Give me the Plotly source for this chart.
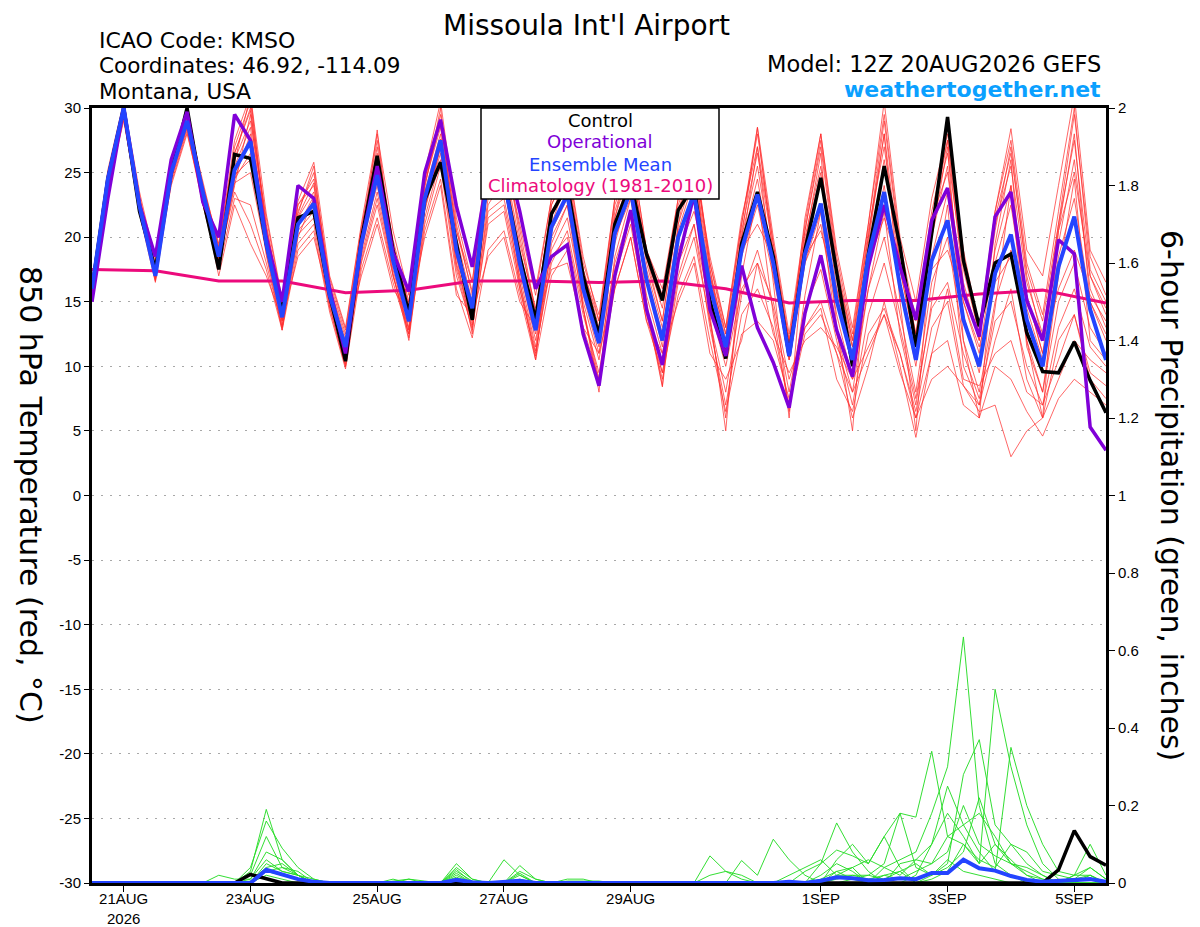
import plotly.graph_objects as go
import pandas as pd

# ---------------- time axis ----------------
times = pd.date_range("2026-08-20 12:00", periods=65, freq="6h")
clim_times = pd.date_range("2026-08-20 12:00", periods=17, freq="24h")

tick_dates = ["2026-08-21", "2026-08-23", "2026-08-25", "2026-08-27",
              "2026-08-29", "2026-09-01", "2026-09-03", "2026-09-05"]
tick_labels = ["21AUG<br>2026", "23AUG", "25AUG", "27AUG",
               "29AUG", "1SEP", "3SEP", "5SEP"]

temp_ticks = [-30, -25, -20, -15, -10, -5, 0, 5, 10, 15, 20, 25, 30]
temp_tick_labels = ["-30", "-25", "-20", "-15", "-10", "-5", "0", "5", "10", "15", "20", "25", "30"]
precip_ticks = [0, 0.2, 0.4, 0.6, 0.8, 1.0, 1.2, 1.4, 1.6, 1.8, 2.0]
precip_tick_labels = ["0", "0.2", "0.4", "0.6", "0.8", "1", "1.2", "1.4", "1.6", "1.8", "2"]

# ---------------- 850 hPa temperature (deg C) ----------------
control_t = [16, 24.5, 30, 22, 17.5, 25, 30, 23,
             17.5, 26.4, 26.1, 19.5, 14.2, 21.5, 22, 15.5,
             10.4, 19.8, 26.3, 19, 14.1, 22.9, 25.8, 19.5,
             13.6, 25.5, 24.5, 18.5, 13.6, 21.8, 24, 17,
             12.4, 21, 24.2, 18.7, 15.1, 22.1, 24, 15.1,
             10.6, 19.5, 23.5, 18.5, 10.8, 19, 24.6, 17.2,
             10, 18.7, 25.5, 19.3, 11.5, 20.3, 29.3, 18.2,
             13.1, 18, 18.7, 12.6, 9.6, 9.5, 11.9, 8.9,
             6.4]

operational_t = [15, 23, 30, 22.5, 18.5, 26, 29.7, 22.7,
                 20, 29.5, 27.5, 20, 15, 24, 23, 16,
                 11, 19.5, 25.5, 18.8, 15.8, 25, 29.1, 22.4,
                 17.7, 25, 27, 22, 16, 18.5, 19.4, 12.5,
                 8.5, 17, 22.1, 14.4, 10.1, 18.2, 23.3, 14.4,
                 10.8, 17.8, 13, 10.3, 6.8, 14.1, 18.6, 12.8,
                 9.2, 17.7, 22.5, 17.7, 13.6, 21.3, 23.8, 15.7,
                 12.3, 21.6, 23.5, 15.1, 12, 19.8, 18.7, 5.3,
                 3.5]

mean_t = [16, 24.5, 30, 22.4, 17, 25, 29, 23.5,
          18.5, 25.2, 27.4, 19.5, 13.8, 21, 22.6, 15.5,
          11.5, 19.5, 24.8, 18.2, 13.5, 23, 27.5, 19,
          14.5, 25, 24.5, 18, 12.8, 20.8, 23.3, 16,
          11.8, 20.3, 23.6, 16.7, 12, 20, 23.4, 16.2,
          11.5, 19, 23.3, 18, 10.8, 18.7, 22.6, 15.1,
          10.5, 18.5, 23.5, 16.2, 10.5, 18.2, 21.3, 13.6,
          10, 17.2, 20.2, 13.6, 10, 17.7, 21.6, 14.4,
          10.5]

climatology_t = [17.5, 17.4, 16.6, 16.6, 15.7, 15.9, 16.6, 16.6, 16.5,
                 16.6, 16.0, 14.9, 15.1, 15.1, 15.6, 15.9, 14.9]

member_01 = [15.8, 24.8, 30.4, 23.0, 17.6, 25.5, 29.3, 23.8,
             19.0, 27.0, 30.5, 21.0, 14.5, 22.0, 25.0, 16.5,
             12.5, 20.5, 27.5, 19.5, 14.5, 24.5, 29.5, 21.0,
             15.5, 26.5, 27.5, 20.0, 14.0, 22.5, 25.5, 17.5,
             13.0, 22.0, 26.0, 18.5, 13.5, 22.0, 26.5, 18.0,
             12.5, 21.0, 28.0, 19.5, 12.0, 20.5, 27.5, 18.0,
             12.0, 20.0, 29.0, 19.0, 12.5, 21.0, 27.5, 16.5,
             12.0, 20.5, 27.0, 17.0, 12.0, 21.0, 29.5, 18.5,
             15.5]
member_02 = [15.2, 23.6, 29.2, 21.8, 16.5, 24.2, 28.2, 22.5,
             17.5, 23.0, 22.5, 18.0, 13.0, 19.5, 21.0, 14.5,
             10.0, 18.0, 22.5, 17.0, 12.5, 21.0, 25.5, 17.0,
             13.0, 21.0, 22.0, 16.0, 11.0, 18.5, 20.0, 14.0,
             9.5, 17.0, 21.0, 14.0, 9.0, 16.5, 20.0, 13.5,
             8.0, 15.5, 19.0, 14.5, 8.0, 14.5, 17.5, 12.0,
             7.0, 14.0, 18.0, 13.0, 7.5, 14.5, 16.5, 11.0,
             7.5, 13.5, 15.0, 10.0, 7.0, 13.0, 16.0, 11.5,
             10.0]
member_03 = [16.3, 24.2, 29.8, 22.8, 17.2, 25.2, 28.8, 23.2,
             18.2, 25.5, 28.5, 20.0, 14.0, 21.5, 23.5, 15.8,
             11.2, 19.0, 25.5, 18.5, 13.8, 23.5, 28.0, 19.5,
             14.8, 24.0, 25.5, 19.0, 13.5, 21.0, 24.5, 16.5,
             12.0, 21.0, 25.0, 17.0, 12.5, 21.0, 25.0, 17.0,
             11.5, 20.0, 25.5, 18.0, 11.0, 19.5, 25.0, 16.0,
             10.5, 19.0, 26.0, 17.5, 11.5, 20.0, 25.5, 15.0,
             11.0, 19.0, 24.0, 15.5, 11.0, 19.5, 26.0, 16.0,
             13.0]
member_04 = [16.0, 24.4, 29.9, 22.2, 16.8, 24.8, 29.0, 23.0,
             18.8, 24.5, 26.5, 19.0, 13.5, 20.5, 22.0, 15.0,
             11.0, 19.5, 24.0, 18.0, 13.0, 22.0, 27.0, 18.5,
             14.0, 23.0, 24.0, 17.5, 12.0, 19.0, 21.5, 15.0,
             10.5, 18.0, 22.0, 15.5, 11.0, 18.0, 21.0, 14.5,
             10.0, 16.0, 18.0, 15.0, 9.0, 13.0, 15.0, 11.0,
             8.0, 11.0, 14.0, 9.5, 6.0, 9.0, 10.0, 8.5,
             6.5, 7.0, 3.0, 5.0, 6.0, 9.0, 12.0, 10.5,
             9.5]
member_05 = [15.6, 24.0, 29.6, 22.0, 17.0, 24.6, 28.6, 22.8,
             18.0, 24.0, 29.5, 19.5, 13.2, 20.0, 23.0, 15.2,
             10.8, 18.5, 23.5, 17.5, 12.8, 22.5, 26.5, 18.0,
             13.5, 22.0, 23.0, 17.0, 11.5, 20.0, 22.5, 15.5,
             11.0, 19.5, 24.0, 16.5, 11.5, 20.5, 24.5, 16.5,
             11.0, 19.5, 24.5, 17.5, 10.5, 18.0, 22.0, 15.0,
             10.0, 18.0, 24.0, 16.0, 10.0, 18.5, 23.5, 14.0,
             9.5, 18.0, 22.5, 14.5, 10.5, 18.5, 23.0, 15.0,
             12.0]
member_06 = [16.4, 25.0, 30.2, 23.2, 17.8, 25.8, 29.5, 24.0,
             19.5, 26.5, 30.0, 20.5, 14.8, 22.5, 24.5, 16.8,
             12.8, 20.8, 26.5, 19.8, 15.0, 24.0, 29.0, 20.5,
             16.5, 25.5, 26.5, 21.0, 15.5, 23.0, 26.0, 18.0,
             14.0, 23.0, 27.0, 19.0, 15.5, 23.0, 27.0, 18.0,
             13.0, 21.0, 28.5, 20.0, 12.5, 21.0, 28.0, 19.0,
             13.0, 21.0, 30.5, 20.0, 15.0, 23.0, 28.0, 19.0,
             13.0, 22.0, 28.4, 19.0, 17.0, 24.0, 31.0, 19.0,
             16.5]
member_07 = [15.9, 24.6, 30.0, 22.5, 17.3, 25.0, 29.2, 23.5,
             18.4, 25.0, 27.5, 19.2, 13.8, 21.2, 22.8, 15.6,
             11.4, 19.6, 25.0, 18.2, 13.4, 23.2, 27.6, 18.8,
             14.2, 24.5, 24.0, 17.5, 12.5, 20.5, 23.0, 16.0,
             11.5, 20.0, 23.5, 16.5, 12.0, 20.0, 23.0, 16.0,
             11.5, 18.5, 22.5, 17.0, 10.5, 18.0, 21.0, 14.0,
             9.0, 16.0, 20.0, 14.0, 8.0, 16.5, 20.0, 12.0,
             8.0, 15.0, 19.0, 12.0, 8.0, 15.0, 18.0, 13.0,
             11.0]
member_08 = [15.4, 24.3, 29.5, 22.3, 16.6, 24.5, 28.9, 23.3,
             17.8, 25.8, 31.0, 20.2, 13.5, 21.8, 25.5, 15.5,
             10.2, 19.2, 28.3, 18.0, 12.2, 23.8, 30.0, 18.5,
             12.5, 26.0, 27.0, 16.5, 10.5, 21.5, 25.5, 14.5,
             8.0, 21.5, 26.5, 15.0, 8.5, 21.0, 27.0, 14.0,
             5.0, 19.0, 27.0, 16.5, 6.0, 19.5, 26.5, 13.0,
             5.0, 19.5, 28.0, 15.0, 5.0, 20.0, 27.0, 12.0,
             6.0, 19.5, 26.0, 12.0, 6.0, 20.5, 28.0, 15.0,
             12.5]
member_09 = [16.1, 24.7, 30.1, 22.6, 17.4, 25.3, 29.0, 23.6,
             18.6, 24.8, 26.0, 19.8, 14.2, 21.0, 22.2, 15.3,
             11.8, 19.8, 24.5, 18.4, 13.6, 22.8, 27.0, 19.2,
             14.5, 25.0, 25.0, 18.5, 13.0, 21.0, 23.0, 16.5,
             12.5, 20.0, 23.0, 17.5, 13.0, 19.0, 22.0, 17.0,
             12.5, 19.0, 21.0, 18.5, 12.0, 18.5, 20.5, 16.0,
             11.5, 18.0, 21.5, 17.5, 11.5, 17.5, 19.0, 15.0,
             11.5, 16.5, 18.5, 15.5, 11.0, 16.0, 19.0, 15.5,
             13.5]
member_10 = [15.7, 24.1, 29.7, 22.1, 16.9, 24.7, 28.7, 23.0,
             18.1, 24.2, 25.0, 18.8, 13.0, 20.2, 21.5, 14.8,
             10.5, 18.2, 23.0, 17.2, 12.0, 21.5, 26.0, 17.5,
             12.8, 21.5, 22.5, 16.5, 11.2, 18.0, 20.5, 14.5,
             9.0, 17.5, 21.5, 14.5, 9.5, 17.0, 21.0, 13.0,
             7.0, 14.0, 16.0, 13.0, 7.0, 12.5, 14.0, 11.0,
             6.0, 10.0, 15.0, 10.0, 4.5, 11.0, 12.0, 7.0,
             6.0, 10.0, 9.0, 6.5, 4.6, 7.5, 9.0, 8.0,
             7.0]
member_11 = [16.2, 24.5, 29.9, 22.9, 17.5, 25.6, 29.4, 24.2,
             19.2, 26.0, 29.0, 21.5, 15.0, 22.5, 24.0, 16.2,
             12.2, 20.2, 26.0, 19.0, 14.2, 24.2, 28.5, 20.0,
             15.0, 24.0, 26.0, 19.5, 14.5, 22.0, 24.0, 17.0,
             12.5, 21.5, 25.5, 18.0, 13.5, 22.0, 25.5, 17.5,
             12.0, 20.5, 26.5, 19.0, 11.5, 20.0, 25.5, 17.5,
             12.0, 20.5, 27.0, 18.0, 12.5, 21.5, 25.0, 16.0,
             12.0, 21.0, 25.5, 16.5, 12.5, 20.5, 25.0, 17.0,
             14.5]
member_12 = [15.9, 24.2, 29.4, 22.4, 17.1, 24.9, 28.5, 22.9,
             18.3, 23.5, 21.0, 17.5, 12.8, 19.0, 20.5, 14.2,
             9.8, 17.5, 21.5, 16.5, 12.5, 20.5, 24.5, 16.0,
             12.2, 19.0, 20.5, 15.5, 10.5, 17.0, 19.0, 13.0,
             9.0, 16.0, 20.0, 13.5, 9.5, 15.5, 18.5, 12.0,
             6.5, 12.5, 13.5, 12.0, 7.5, 13.0, 14.5, 9.0,
             6.5, 12.5, 14.5, 11.0, 6.5, 13.0, 15.0, 8.5,
             7.0, 12.0, 16.0, 9.0, 6.0, 12.0, 14.0, 9.5,
             8.5]
member_13 = [16.0, 24.9, 30.3, 23.1, 17.7, 25.4, 29.6, 23.9,
             19.3, 27.5, 31.0, 21.8, 15.2, 22.8, 25.8, 17.0,
             13.0, 21.0, 28.0, 20.5, 15.5, 25.0, 30.5, 21.5,
             16.5, 27.0, 28.0, 22.0, 16.0, 23.0, 26.0, 18.5,
             13.5, 23.0, 27.0, 19.0, 16.0, 23.0, 26.5, 17.5,
             11.0, 20.0, 28.5, 18.5, 11.0, 21.5, 28.0, 18.5,
             12.5, 21.0, 29.5, 19.5, 13.5, 22.0, 27.5, 18.0,
             12.5, 22.0, 27.5, 18.0, 14.0, 22.0, 30.0, 17.5,
             15.0]
member_14 = [15.5, 24.1, 29.5, 22.0, 16.7, 24.4, 28.4, 22.6,
             17.6, 24.5, 28.0, 18.6, 12.8, 20.8, 23.2, 14.6,
             10.0, 18.8, 24.5, 17.0, 12.8, 22.2, 27.0, 17.8,
             13.2, 22.5, 24.5, 16.0, 10.8, 19.5, 22.5, 14.5,
             8.5, 18.5, 23.0, 14.5, 8.4, 18.5, 23.0, 13.5,
             6.0, 17.0, 23.5, 14.0, 6.5, 15.5, 22.0, 12.5,
             8.0, 16.0, 22.0, 12.5, 7.0, 15.0, 22.5, 10.0,
             7.0, 14.5, 24.0, 11.5, 8.0, 17.0, 24.5, 12.0,
             10.5]
member_15 = [16.1, 23.8, 29.0, 22.2, 17.2, 24.0, 28.0, 23.0,
             17.0, 22.5, 19.5, 17.0, 13.6, 18.5, 20.0, 15.0,
             12.0, 17.0, 21.0, 16.0, 14.0, 20.0, 24.0, 15.5,
             14.0, 18.5, 20.0, 15.0, 13.0, 17.5, 18.0, 13.0,
             11.0, 16.0, 20.0, 13.5, 11.0, 15.0, 18.0, 11.0,
             9.0, 12.0, 18.0, 12.5, 9.5, 12.0, 13.0, 11.5,
             9.0, 11.5, 14.0, 11.0, 6.0, 11.0, 16.0, 9.0,
             8.5, 11.0, 12.0, 8.0, 7.0, 10.5, 14.0, 9.0,
             7.5]
member_16 = [16.6, 25.2, 30.5, 23.5, 18.2, 26.0, 29.6, 24.0,
             19.0, 26.5, 29.8, 20.8, 14.6, 21.6, 24.2, 16.2,
             11.8, 20.0, 27.0, 19.2, 14.8, 24.5, 28.8, 20.5,
             15.8, 25.5, 27.0, 20.5, 14.2, 22.5, 25.0, 17.5,
             13.5, 22.5, 26.0, 18.5, 14.5, 22.5, 26.0, 18.5,
             13.0, 21.5, 27.0, 19.5, 11.8, 20.5, 27.0, 17.5,
             11.5, 20.0, 28.0, 18.0, 14.0, 21.5, 26.5, 17.5,
             12.5, 21.5, 26.5, 17.5, 13.5, 21.0, 27.5, 17.0,
             14.0]

members_t = [member_01, member_02, member_03, member_04, member_05, member_06,
             member_07, member_08, member_09, member_10, member_11, member_12,
             member_13, member_14, member_15, member_16]

# ---------------- 6-hour precipitation (inches) ----------------
precip_01 = [0, 0, 0, 0, 0, 0, 0, 0,
             0, 0, 0.03, 0.19, 0.06, 0.02, 0, 0,
             0, 0, 0, 0, 0, 0, 0, 0.05,
             0.01, 0, 0, 0, 0, 0, 0, 0,
             0, 0, 0, 0, 0, 0, 0, 0,
             0, 0, 0, 0, 0, 0, 0.02, 0.05,
             0.03, 0, 0.04, 0.06, 0.08, 0.18, 0.3, 0.635,
             0.2, 0.05, 0.02, 0, 0, 0, 0, 0.02,
             0]
precip_02 = [0, 0, 0, 0, 0, 0, 0, 0,
             0, 0, 0.04, 0.16, 0.09, 0.04, 0.01, 0,
             0, 0, 0, 0.01, 0, 0, 0, 0.04,
             0.01, 0, 0.06, 0.02, 0, 0, 0, 0,
             0, 0, 0, 0, 0, 0, 0, 0.07,
             0.03, 0.01, 0, 0, 0, 0, 0.05, 0.155,
             0.08, 0.03, 0, 0, 0.02, 0.1, 0.18, 0.12,
             0.05, 0.5, 0.3, 0.15, 0.05, 0.01, 0, 0,
             0]
precip_03 = [0, 0, 0, 0, 0, 0, 0, 0,
             0, 0, 0.02, 0.12, 0.04, 0.03, 0, 0,
             0, 0, 0, 0, 0.01, 0, 0, 0.035,
             0, 0, 0, 0.045, 0.01, 0, 0, 0,
             0, 0, 0, 0, 0, 0, 0, 0,
             0, 0.058, 0.02, 0.113, 0.06, 0.02, 0, 0.06,
             0.1, 0.05, 0.12, 0.04, 0, 0.02, 0.05, 0.28,
             0.37, 0.15, 0.1, 0.05, 0.02, 0, 0.02, 0.1,
             0.02]
precip_04 = [0, 0, 0, 0, 0, 0, 0, 0,
             0.02, 0.01, 0.01, 0.08, 0.06, 0.02, 0, 0,
             0, 0, 0, 0, 0, 0, 0, 0.03,
             0.005, 0, 0, 0.03, 0.01, 0, 0, 0,
             0, 0, 0, 0, 0, 0, 0, 0,
             0, 0, 0, 0, 0, 0.03, 0.05, 0.085,
             0.07, 0.05, 0.12, 0.18, 0.17, 0.34, 0.12, 0.15,
             0.08, 0.03, 0.35, 0.2, 0.1, 0.03, 0.02, 0.04,
             0.01]
precip_05 = [0, 0, 0, 0, 0, 0, 0, 0,
             0, 0, 0.01, 0.06, 0.03, 0.02, 0, 0,
             0, 0, 0, 0, 0, 0, 0, 0.025,
             0, 0, 0, 0.025, 0, 0, 0.005, 0.005,
             0.005, 0, 0, 0, 0, 0, 0, 0,
             0, 0, 0, 0, 0, 0, 0, 0.03,
             0.04, 0, 0, 0.05, 0.06, 0.1, 0.25, 0.15,
             0.18, 0.12, 0.05, 0.02, 0, 0, 0.01, 0.04,
             0.01]
precip_06 = [0, 0, 0, 0, 0, 0, 0, 0,
             0, 0, 0.005, 0.04, 0.05, 0.02, 0, 0,
             0, 0, 0, 0, 0, 0, 0, 0.02,
             0, 0, 0, 0.01, 0, 0, 0, 0,
             0, 0, 0, 0, 0, 0, 0, 0,
             0, 0, 0, 0, 0, 0, 0, 0.02,
             0.02, 0.01, 0.02, 0.01, 0.03, 0.05, 0.08, 0.2,
             0.1, 0.07, 0.05, 0.04, 0.02, 0, 0, 0,
             0]
precip_07 = [0, 0, 0, 0, 0, 0, 0, 0,
             0, 0, 0, 0.05, 0.03, 0.02, 0, 0,
             0, 0, 0, 0, 0, 0, 0, 0.015,
             0, 0, 0, 0, 0, 0, 0, 0,
             0, 0, 0, 0, 0, 0, 0, 0,
             0, 0, 0, 0, 0, 0, 0, 0,
             0.01, 0.02, 0.01, 0.03, 0, 0.01, 0.03, 0.1,
             0.05, 0.1, 0.05, 0.03, 0.01, 0, 0, 0,
             0]
precip_08 = [0, 0, 0, 0, 0, 0, 0, 0,
             0, 0, 0, 0.03, 0.02, 0.01, 0, 0,
             0, 0, 0, 0.005, 0.01, 0.005, 0, 0,
             0, 0, 0, 0, 0, 0, 0.01, 0.01,
             0, 0, 0, 0, 0, 0, 0, 0.02,
             0.03, 0.02, 0, 0, 0.02, 0.04, 0.06, 0.02,
             0.04, 0.06, 0.04, 0.02, 0.06, 0.05, 0.12, 0.1,
             0.06, 0.04, 0.1, 0.08, 0.03, 0.02, 0.01, 0.02,
             0]
precip_09 = [0, 0, 0, 0, 0, 0, 0, 0,
             0, 0, 0, 0.02, 0.01, 0, 0, 0,
             0, 0, 0, 0, 0, 0, 0, 0,
             0, 0, 0, 0, 0, 0, 0, 0,
             0, 0, 0, 0, 0, 0, 0, 0,
             0, 0, 0, 0, 0, 0, 0, 0.01,
             0.02, 0.02, 0.05, 0.18, 0.04, 0.02, 0.06, 0.03,
             0.02, 0.01, 0, 0, 0, 0, 0, 0,
             0]
precip_10 = [0, 0, 0, 0, 0, 0, 0, 0,
             0, 0, 0, 0.03, 0.04, 0.02, 0.01, 0,
             0, 0, 0, 0, 0, 0, 0, 0,
             0, 0, 0, 0.02, 0, 0, 0, 0,
             0, 0, 0, 0, 0, 0, 0, 0,
             0, 0, 0, 0, 0, 0, 0.01, 0.03,
             0.01, 0, 0.02, 0.03, 0.05, 0.02, 0.04, 0.08,
             0.22, 0.1, 0.06, 0.02, 0.01, 0, 0.02, 0.02,
             0]

members_p = [precip_01, precip_02, precip_03, precip_04, precip_05,
             precip_06, precip_07, precip_08, precip_09, precip_10]

control_p = [0, 0, 0, 0, 0, 0, 0, 0,
             0, 0, 0.022, 0.01, 0, 0, 0, 0,
             0, 0, 0, 0, 0, 0, 0, 0,
             0, 0, 0, 0, 0, 0, 0, 0,
             0, 0, 0, 0, 0, 0, 0, 0,
             0, 0, 0, 0, 0, 0, 0, 0,
             0, 0, 0, 0, 0, 0, 0, 0,
             0, 0, 0, 0, 0, 0.034, 0.135, 0.068,
             0.046]
mean_p = [0, 0, 0, 0, 0, 0, 0, 0,
          0, 0, 0, 0.034, 0.022, 0.01, 0.003, 0,
          0, 0, 0, 0, 0, 0, 0, 0.008,
          0.002, 0, 0.003, 0.006, 0, 0, 0, 0,
          0, 0, 0, 0, 0, 0, 0, 0,
          0, 0, 0, 0, 0.003, 0, 0.006, 0.015,
          0.012, 0.007, 0.008, 0.012, 0.01, 0.026, 0.026, 0.06,
          0.038, 0.032, 0.018, 0.008, 0.003, 0.006, 0.008, 0.01,
          0.003]

# ---------------- styling ----------------
RED = "rgba(255,45,45,0.72)"
GREEN = "rgba(40,220,40,0.95)"
BLACK = "#000000"
PURPLE = "#8000d8"
BLUE = "#2444ff"
PINK = "#ec0a7c"
SKY = "#0aa0ff"
HEAD_FONT = "DejaVu Sans"
TICK_FONT = "Liberation Sans"

# the page body adds an 8px offset, so the figure is drawn 8px smaller
OFF = 8
FIG_W, FIG_H = 1200 - OFF, 927 - OFF
# plot-area edges in reference (window) pixels
L, R, T, B = 92, 1106, 108, 883


def px_x(x):
    return (x - L) / (R - L)


def px_y(y):
    return (B - y) / (B - T)


fig = go.Figure()

for m in members_t:
    fig.add_trace(go.Scatter(x=times, y=m, mode="lines",
                             line=dict(color=RED, width=1),
                             hoverinfo="skip", showlegend=False))

fig.add_trace(go.Scatter(x=clim_times, y=climatology_t, mode="lines",
                         line=dict(color=PINK, width=3), showlegend=False))
fig.add_trace(go.Scatter(x=times, y=control_t, mode="lines",
                         line=dict(color=BLACK, width=3.5), showlegend=False))
fig.add_trace(go.Scatter(x=times, y=operational_t, mode="lines",
                         line=dict(color=PURPLE, width=3.5), showlegend=False))
fig.add_trace(go.Scatter(x=times, y=mean_t, mode="lines",
                         line=dict(color=BLUE, width=4), showlegend=False))

for p in members_p:
    fig.add_trace(go.Scatter(x=times, y=p, mode="lines", yaxis="y2",
                             line=dict(color=GREEN, width=1),
                             hoverinfo="skip", showlegend=False))
fig.add_trace(go.Scatter(x=times, y=control_p, mode="lines", yaxis="y2",
                         line=dict(color=BLACK, width=3.5), showlegend=False))
fig.add_trace(go.Scatter(x=times, y=mean_p, mode="lines", yaxis="y2",
                         line=dict(color=BLUE, width=4), showlegend=False))

annotations = [
    dict(text="Missoula Int'l Airport", x=px_x(586), y=px_y(OFF), xanchor="center", yanchor="top",
         borderpad=0, font=dict(family=HEAD_FONT, size=28, color="black")),
    dict(text="ICAO Code: KMSO", x=px_x(97), y=px_y(40), xanchor="left", yanchor="middle",
         font=dict(family=HEAD_FONT, size=22, color="black")),
    dict(text="Coordinates: 46.92, -114.09", x=px_x(97), y=px_y(66), xanchor="left", yanchor="middle",
         font=dict(family=HEAD_FONT, size=21.5, color="black")),
    dict(text="Montana, USA", x=px_x(97), y=px_y(92), xanchor="left", yanchor="middle",
         font=dict(family=HEAD_FONT, size=21.5, color="black")),
    dict(text="Model: 12Z 20AUG2026 GEFS", x=px_x(1103), y=px_y(64), xanchor="right", yanchor="middle",
         font=dict(family=HEAD_FONT, size=22.5, color="black")),
    dict(text="<b>weathertogether.net</b>", x=px_x(1103), y=px_y(89), xanchor="right", yanchor="middle",
         font=dict(family=HEAD_FONT, size=22, color=SKY)),
    dict(text="Control", x=px_x(600), y=px_y(121), xanchor="center", yanchor="middle",
         font=dict(family=HEAD_FONT, size=18, color=BLACK)),
    dict(text="Operational", x=px_x(600), y=px_y(142), xanchor="center", yanchor="middle",
         font=dict(family=HEAD_FONT, size=18, color=PURPLE)),
    dict(text="Ensemble Mean", x=px_x(600), y=px_y(164), xanchor="center", yanchor="middle",
         font=dict(family=HEAD_FONT, size=18, color=BLUE)),
    dict(text="Climatology (1981-2010)", x=px_x(600), y=px_y(186), xanchor="center", yanchor="middle",
         font=dict(family=HEAD_FONT, size=18, color=PINK)),
    dict(text="850 hPa Temperature (red, °C)", x=px_x(31), y=px_y(495), xanchor="center", yanchor="middle",
         textangle=90, font=dict(family=HEAD_FONT, size=30, color="black")),
    dict(text="6-hour Precipitation (green, inches)", x=px_x(1172), y=px_y(495), xanchor="center",
         yanchor="middle", textangle=90, font=dict(family=HEAD_FONT, size=30, color="black")),
]
for a in annotations:
    a.update(xref="paper", yref="paper", showarrow=False)

fig.update_layout(
    width=FIG_W, height=FIG_H,
    margin=dict(l=L - OFF, r=FIG_W - (R - OFF), t=T - OFF, b=FIG_H - (B - OFF), autoexpand=False),
    paper_bgcolor="white", plot_bgcolor="white",
    showlegend=False,
    xaxis=dict(type="date", range=[times[0], times[-1]],
               tickvals=tick_dates, ticktext=tick_labels,
               ticks="outside", ticklen=6, tickwidth=1, tickcolor="black",
               ticklabelstandoff=-6,
               showline=True, linecolor="black", linewidth=3, mirror=True,
               showgrid=False, zeroline=False, automargin=False,
               tickfont=dict(family=TICK_FONT, size=15, color="black")),
    yaxis=dict(range=[-30, 30], tickvals=temp_ticks, ticktext=temp_tick_labels,
               ticks="outside", ticklen=5, tickwidth=1, tickcolor="black",
               showline=True, linecolor="black", linewidth=3,
               showgrid=True, gridcolor="#a8a8a8", gridwidth=1, griddash="2px,7px",
               zeroline=False, automargin=False,
               tickfont=dict(family=TICK_FONT, size=15, color="black")),
    yaxis2=dict(range=[0, 2], overlaying="y", side="right",
                tickvals=precip_ticks, ticktext=precip_tick_labels,
                ticks="outside", ticklen=6, tickwidth=1, tickcolor="black",
                showline=True, linecolor="black", linewidth=3,
                showgrid=False, zeroline=False, automargin=False,
                tickfont=dict(family=TICK_FONT, size=15, color="black")),
    shapes=[dict(type="rect", xref="paper", yref="paper",
                 x0=px_x(481), x1=px_x(719), y0=px_y(199), y1=px_y(108),
                 fillcolor="white", line=dict(color="black", width=1.5), layer="above")],
    annotations=annotations,
)

fig.write_html("out.html")
